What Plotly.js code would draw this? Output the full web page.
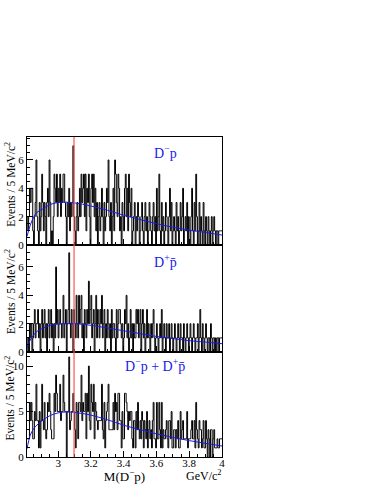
<!DOCTYPE html>
<html>
<head>
<meta charset="utf-8">
<script src="https://cdn.plot.ly/plotly-3.0.1.min.js"></script>
<style>
  html, body { margin: 0; padding: 0; background: white; }
  #chart { width: 374px; height: 484px; }
</style>
</head>
<body>
<div id="chart"></div>
<script>
// binning: 5 MeV bins from 2.81 to 4.00 GeV/c^2
const binLow = 2.81;
const binWidth = 0.005;

// D- p counts per bin
const countsDmP = [
  2, 1, 2, 4, 3, 4, 4, 1, 0, 2, 3, 6, 2, 1, 0, 3, 1, 2, 5, 3,
  1, 3, 2, 0, 3, 4, 2, 6, 3, 0, 1, 0, 2, 5, 4, 3, 5, 2, 4, 3,
  5, 2, 4, 3, 5, 5, 3, 2, 0, 3, 2, 4, 1, 3, 2, 3, 7, 2, 1, 0,
  2, 3, 1, 2, 4, 2, 5, 3, 4, 5, 2, 5, 1, 4, 3, 5, 2, 0, 4, 5,
  3, 5, 2, 4, 1, 3, 0, 2, 3, 1, 2, 4, 2, 0, 3, 1, 2, 4, 3, 6,
  2, 1, 3, 0, 2, 4, 1, 6, 5, 3, 2, 5, 4, 1, 2, 0, 3, 2, 1, 4,
  5, 2, 4, 1, 5, 3, 2, 4, 0, 1, 2, 3, 0, 2, 1, 3, 2, 0, 1, 2,
  3, 1, 0, 2, 3, 1, 2, 0, 1, 3, 2, 1, 0, 2, 3, 1, 2, 0, 4, 1,
  2, 5, 1, 0, 3, 1, 2, 0, 1, 3, 2, 1, 0, 2, 4, 1, 3, 0, 1, 2,
  1, 0, 3, 1, 2, 0, 1, 3, 1, 2, 4, 0, 1, 2, 1, 3, 0, 2, 1, 0,
  2, 4, 1, 0, 3, 1, 5, 2, 0, 1, 3, 0, 2, 1, 0, 3, 1, 0, 2, 1,
  0, 2, 1, 0, 1, 2, 0, 1, 2, 1, 0, 1, 1, 0, 1, 1, 1, 1
];

// D+ pbar counts per bin
const countsDpPbar = [
  0, 1, 0, 2, 1, 2, 0, 1, 2, 3, 1, 2, 2, 3, 1, 2, 0, 2, 3, 1,
  2, 3, 1, 2, 0, 2, 3, 1, 2, 3, 1, 2, 0, 2, 1, 6, 2, 3, 1, 2,
  3, 2, 1, 2, 4, 1, 2, 3, 0, 2, 3, 7, 2, 1, 3, 2, 0, 3, 2, 1,
  4, 2, 1, 4, 2, 3, 4, 1, 2, 0, 3, 2, 1, 3, 2, 5, 2, 3, 4, 1,
  2, 3, 0, 2, 4, 1, 3, 2, 1, 3, 2, 4, 1, 2, 3, 0, 2, 1, 3, 2,
  1, 2, 0, 3, 1, 2, 2, 1, 0, 3, 1, 2, 3, 3, 2, 1, 2, 0, 1, 3,
  2, 4, 1, 2, 0, 1, 3, 1, 2, 0, 2, 1, 1, 3, 2, 3, 1, 2, 3, 0,
  2, 3, 1, 2, 0, 1, 3, 1, 2, 1, 0, 2, 1, 2, 3, 1, 0, 1, 2, 1,
  0, 1, 2, 1, 3, 0, 1, 2, 1, 0, 2, 1, 1, 2, 0, 1, 2, 1, 0, 1,
  2, 1, 0, 1, 2, 1, 0, 2, 1, 1, 0, 2, 1, 0, 1, 2, 1, 0, 1, 2,
  1, 0, 1, 2, 1, 0, 1, 1, 2, 0, 1, 3, 1, 0, 2, 1, 0, 1, 2, 1,
  0, 1, 1, 0, 2, 1, 0, 1, 1, 0, 1, 0, 1, 1, 0, 1, 1, 1
];

// fitted background curves
const fitMass = [2.81, 2.83, 2.85, 2.87, 2.90, 2.95, 3.00, 3.05, 3.10, 3.15, 3.20, 3.30, 3.40, 3.50, 3.60, 3.70, 3.80, 3.90, 4.00];
const fitDmP = [0.6, 1.4, 1.95, 2.3, 2.5, 2.85, 3.0, 3.02, 2.97, 2.88, 2.75, 2.45, 2.1, 1.8, 1.5, 1.25, 1.05, 0.88, 0.7];
const fitDpPbar = [0.25, 0.85, 1.2, 1.45, 1.65, 1.88, 1.97, 2.0, 2.0, 1.96, 1.88, 1.7, 1.5, 1.3, 1.1, 0.95, 0.8, 0.7, 0.59];
const fitSum = [0.9, 2.4, 3.1, 3.5, 3.95, 4.55, 4.85, 4.95, 4.9, 4.78, 4.6, 4.1, 3.5, 3.0, 2.55, 2.15, 1.8, 1.5, 1.21];

const jpsiMass = 3.097;

// combined spectrum is the sum of the two charge modes
const countsSum = countsDmP.map((v, i) => v + countsDpPbar[i]);

const serif = 'Liberation Serif';
const blue = 'rgb(25,25,235)';

function stepTrace(counts, xa, ya) {
  const edges = counts.map((v, i) => binLow + i * binWidth);
  edges.push(binLow + counts.length * binWidth);
  const ys = counts.concat([counts[counts.length - 1]]);
  return {
    x: edges, y: ys, xaxis: xa, yaxis: ya,
    type: 'scatter', mode: 'lines',
    line: { shape: 'hv', color: 'black', width: 1 },
    hoverinfo: 'skip'
  };
}

function fitTrace(vals, xa, ya) {
  return {
    x: fitMass, y: vals, xaxis: xa, yaxis: ya,
    type: 'scatter', mode: 'lines',
    line: { shape: 'spline', color: blue, width: 1 },
    hoverinfo: 'skip'
  };
}

const data = [
  stepTrace(countsDmP, 'x3', 'y3'), fitTrace(fitDmP, 'x3', 'y3'),
  stepTrace(countsDpPbar, 'x2', 'y2'), fitTrace(fitDpPbar, 'x2', 'y2'),
  stepTrace(countsSum, 'x', 'y'), fitTrace(fitSum, 'x', 'y')
];

const xBase = {
  range: [2.81, 4.0],
  showline: true, mirror: true, linecolor: 'black', linewidth: 1,
  showgrid: false, zeroline: false,
  ticks: 'inside', ticklen: 6, tickcolor: 'black',
  tick0: 3, dtick: 0.2,
  minor: { ticks: 'inside', ticklen: 3, dtick: 0.05, tickcolor: 'black' },
  tickfont: { family: serif, size: 11, color: 'black' }
};

function yAxis(domain, top, vals, minorStep, anchor) {
  return {
    domain: domain, range: [0, top], anchor: anchor,
    showline: true, mirror: true, linecolor: 'black', linewidth: 1,
    showgrid: false, zeroline: false,
    ticks: 'inside', ticklen: 6, tickcolor: 'black',
    tickvals: vals,
    minor: { ticks: 'inside', ticklen: 3, dtick: minorStep, tickcolor: 'black' },
    tickfont: { family: serif, size: 11, color: 'black' }
  };
}

const d3 = [0, 0.328], d2 = [0.328, 0.6625], d1 = [0.6625, 1];

function yTitle(yTop) {
  return {
    text: 'Events / 5 MeV/c<sup>2</sup>', textangle: -90,
    xref: 'paper', yref: 'paper', x: -0.087, y: yTop,
    xanchor: 'center', yanchor: 'top', showarrow: false,
    font: { family: serif, size: 11.5, color: 'black' }
  };
}

function label(text, x, y) {
  return {
    text: text, xref: 'paper', yref: 'paper', x: x, y: y,
    xanchor: 'center', yanchor: 'middle', showarrow: false,
    font: { family: serif, size: 14, color: blue }
  };
}

const layout = {
  width: 374, height: 484,
  margin: { l: 27, r: 152, t: 137, b: 27 },
  paper_bgcolor: 'white', plot_bgcolor: 'white',
  showlegend: false,
  xaxis: Object.assign({}, xBase, {
    anchor: 'y',
    ticklabelstandoff: -4,
    title: { text: 'M(D<sup>\u2212</sup>p)', font: { family: serif, size: 13, color: 'black' }, standoff: 6 }
  }),
  xaxis2: Object.assign({}, xBase, { anchor: 'y2', matches: 'x', showticklabels: false }),
  xaxis3: Object.assign({}, xBase, { anchor: 'y3', matches: 'x', showticklabels: false }),
  yaxis: yAxis(d3, 11.54, [0, 5, 10], 1, 'x'),
  yaxis2: yAxis(d2, 7.55, [0, 2, 4, 6], 0.5, 'x2'),
  yaxis3: yAxis(d1, 7.62, [0, 2, 4, 6], 0.5, 'x3'),
  shapes: [{
    type: 'line', xref: 'x', yref: 'paper',
    x0: jpsiMass, x1: jpsiMass, y0: 0, y1: 1,
    line: { color: 'rgb(255,80,80)', width: 1.2 }, layer: 'above'
  }],
  annotations: [
    yTitle(0.99), yTitle(0.655), yTitle(0.322),
    label('D<sup>\u2212</sup>p', 0.708, 0.953),
    label('D<sup>+</sup>p\u0304', 0.708, 0.6125),
    label('D<sup>\u2212</sup>p + D<sup>+</sup>p\u0304', 0.656, 0.2875),
    {
      text: 'GeV/c<sup>2</sup>', xref: 'paper', yref: 'paper', x: 0.908, y: -0.058,
      xanchor: 'center', yanchor: 'middle', showarrow: false,
      font: { family: serif, size: 12, color: 'black' }
    }
  ]
};

Plotly.newPlot('chart', data, layout, { displayModeBar: false, staticPlot: true });
</script>
</body>
</html>
